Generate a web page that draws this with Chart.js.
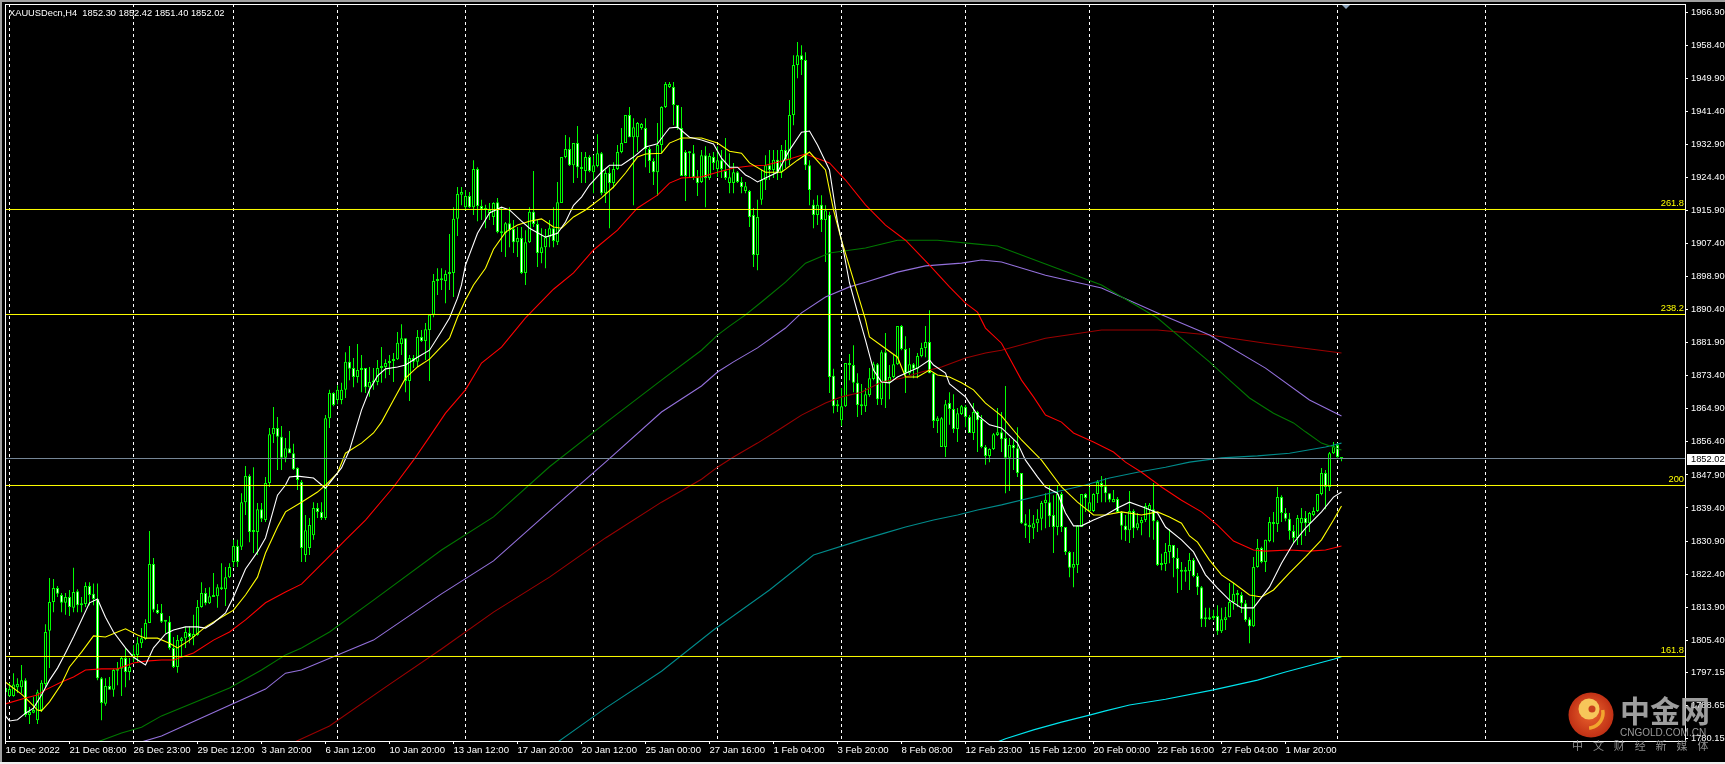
<!DOCTYPE html>
<html>
<head>
<meta charset="utf-8">
<title>XAUUSDecn,H4</title>
<script src="https://cdn.jsdelivr.net/npm/chart.js@4/dist/chart.umd.min.js"></script>
<style>
html, body { margin: 0; padding: 0; background: #000; overflow: hidden; }
canvas { display: block; }
</style>
</head>
<body>
<canvas id="chart" width="1725" height="764"></canvas>
<script>
// H4 candles, one value per bar
const open = [
1792.0,1791.0,1791.0,1793.3,1793.3,1795.1,1786.1,1786.7,1784.8,1787.4,
1794.1,1807.8,1815.2,1818.8,1817.0,1815.0,1816.5,1813.7,1818.0,1814.4,
1814.7,1819.3,1817.3,1816.0,1795.6,1789.0,1793.6,1792.6,1797.5,1798.0,
1800.8,1797.2,1801.1,1801.6,1804.6,1805.7,1809.8,1825.0,1813.2,1812.4,
1810.1,1810.1,1803.4,1798.5,1805.2,1805.9,1807.2,1806.2,1806.7,1813.9,
1817.5,1814.9,1816.5,1816.7,1818.5,1818.5,1821.6,1825.5,1829.6,1829.4,
1840.9,1847.6,1833.2,1833.2,1839.1,1836.3,1845.8,1858.4,1860.0,1857.7,
1852.3,1854.8,1853.5,1849.7,1846.1,1827.3,1829.1,1832.4,1839.4,1838.4,
1836.8,1862.5,1869.0,1867.2,1867.2,1869.8,1877.0,1875.4,1873.1,1875.4,
1875.4,1870.5,1871.7,1871.8,1875.4,1875.7,1876.7,1877.2,1877.7,1881.6,
1883.1,1872.1,1878.0,1877.0,1883.4,1882.4,1885.2,1889.1,1897.8,1898.0,
1897.8,1899.6,1899.9,1913.8,1920.0,1916.8,1919.7,1916.8,1926.6,1917.1,
1916.1,1915.3,1914.3,1918.1,1910.1,1910.1,1912.7,1911.2,1907.8,1908.9,
1899.9,1907.8,1915.6,1912.5,1905.0,1906.5,1909.1,1911.4,1907.8,1917.9,
1929.7,1931.8,1927.6,1933.3,1926.6,1926.1,1929.7,1925.8,1927.4,1930.7,
1920.4,1925.6,1923.0,1926.6,1931.0,1933.3,1940.5,1934.8,1934.8,1937.2,
1937.2,1931.8,1928.7,1925.8,1932.8,1942.6,1947.7,1947.7,1943.1,1937.2,
1931.0,1930.7,1930.7,1924.5,1923.3,1930.2,1924.3,1929.7,1926.6,1928.9,
1926.1,1923.0,1923.0,1925.8,1923.3,1921.0,1921.0,1914.8,1904.5,1918.7,
1923.8,1927.6,1926.4,1929.0,1925.8,1931.5,1928.9,1940.5,1953.4,1955.9,
1954.7,1927.6,1917.4,1914.8,1917.4,1913.5,1914.8,1873.4,1865.6,1862.0,
1865.6,1876.7,1876.2,1871.6,1865.6,1865.6,1868.5,1872.6,1876.4,1867.4,
1879.5,1871.8,1873.1,1876.4,1886.2,1880.3,1874.1,1876.4,1875.2,1878.5,
1880.6,1882.1,1874.1,1861.8,1855.1,1855.1,1866.4,1864.9,1859.7,1863.6,
1865.4,1862.8,1858.7,1864.1,1862.3,1855.1,1852.8,1854.6,1858.2,1858.9,
1857.4,1852.3,1855.6,1854.8,1848.4,1835.5,1834.5,1834.2,1835.5,1836.6,
1840.7,1840.9,1837.6,1834.5,1843.0,1834.5,1828.1,1824.0,1824.7,1834.5,
1843.0,1838.6,1838.6,1843.0,1845.8,1845.0,1843.2,1840.9,1841.7,1838.4,
1834.8,1833.7,1838.6,1834.2,1835.5,1836.3,1838.9,1839.1,1836.0,1824.7,
1825.0,1828.1,1829.9,1826.5,1823.0,1823.0,1823.2,1826.0,1821.9,1819.0,
1810.8,1810.8,1811.1,1811.6,1807.7,1810.6,1811.3,1815.2,1817.0,1817.0,
1814.9,1810.8,1809.0,1824.2,1829.1,1825.5,1830.9,1835.3,1835.3,1842.2,
1838.1,1836.6,1833.5,1831.7,1835.5,1836.8,1835.5,1837.6,1838.6,1843.0,
1848.4,1844.8,1853.5,1855.6,1852.30];
const high = [
1794.6,1794.4,1796.9,1795.6,1799.0,1795.6,1788.2,1790.8,1792.6,1795.1,
1809.5,1821.4,1821.1,1819.3,1817.5,1817.5,1818.3,1824.0,1818.5,1816.5,
1820.3,1820.3,1820.0,1820.0,1795.9,1795.6,1795.9,1798.0,1799.8,1801.1,
1803.4,1800.8,1804.1,1806.2,1808.5,1810.8,1833.5,1826.5,1814.7,1814.7,
1810.6,1811.6,1806.2,1806.7,1806.2,1808.8,1809.0,1811.9,1815.7,1820.3,
1818.8,1819.0,1822.7,1819.8,1825.2,1824.2,1825.2,1831.2,1831.2,1843.2,
1850.2,1848.1,1849.9,1840.7,1840.7,1847.4,1860.0,1865.4,1862.8,1860.5,
1857.4,1859.2,1855.9,1849.9,1846.6,1837.6,1836.8,1840.9,1840.7,1840.9,
1863.3,1869.8,1869.2,1871.0,1871.6,1879.5,1881.1,1878.0,1881.6,1878.8,
1875.4,1875.7,1875.4,1877.5,1880.8,1877.7,1878.8,1879.3,1884.7,1886.7,
1883.1,1878.8,1878.8,1885.2,1885.2,1887.0,1889.1,1899.6,1901.1,1901.1,
1900.6,1909.9,1916.8,1922.0,1922.0,1921.2,1920.7,1928.9,1927.1,1918.7,
1917.4,1917.9,1918.1,1919.2,1916.8,1913.0,1916.8,1913.5,1911.7,1911.7,
1910.9,1916.8,1926.1,1913.5,1911.4,1911.2,1913.5,1916.8,1923.3,1929.7,
1935.4,1934.8,1933.3,1937.7,1931.0,1931.0,1930.2,1930.2,1935.6,1931.0,
1926.4,1927.1,1928.4,1932.8,1937.2,1940.5,1942.6,1939.7,1938.7,1938.5,
1939.7,1932.3,1929.4,1938.5,1942.8,1949.0,1949.0,1949.0,1943.1,1942.6,
1931.5,1931.2,1932.8,1926.4,1931.5,1932.5,1930.7,1931.0,1932.5,1931.5,
1934.6,1930.7,1928.2,1926.1,1924.6,1923.3,1921.2,1916.6,1918.7,1926.4,
1930.2,1931.5,1931.5,1931.5,1932.8,1934.1,1944.4,1955.9,1959.3,1958.5,
1956.7,1928.9,1918.7,1919.9,1919.9,1917.3,1915.6,1875.2,1867.2,1870.3,
1876.7,1879.0,1881.3,1874.1,1871.3,1870.3,1875.4,1877.0,1876.7,1880.0,
1884.4,1876.2,1878.8,1886.2,1886.5,1883.6,1880.6,1876.7,1879.3,1881.9,
1886.2,1890.3,1874.4,1863.0,1862.8,1867.2,1869.2,1868.7,1865.1,1865.9,
1865.9,1863.3,1866.4,1864.4,1863.3,1855.6,1854.8,1858.7,1865.1,1864.1,
1870.8,1857.4,1856.9,1860.2,1848.4,1837.8,1839.1,1837.6,1839.1,1841.2,
1843.2,1845.1,1842.7,1845.1,1843.5,1834.5,1828.3,1828.1,1835.0,1843.0,
1843.2,1844.8,1843.2,1846.6,1847.6,1847.1,1843.2,1844.0,1842.2,1838.6,
1837.6,1843.8,1839.1,1838.1,1837.1,1840.7,1840.7,1845.8,1836.3,1827.6,
1830.4,1834.0,1829.9,1829.1,1825.5,1824.2,1827.8,1826.5,1822.7,1819.3,
1813.7,1813.7,1813.2,1814.4,1813.7,1813.9,1820.1,1820.1,1818.3,1817.8,
1815.7,1811.3,1826.8,1831.4,1829.4,1831.2,1837.1,1838.4,1844.8,1842.7,
1839.4,1838.1,1835.0,1837.6,1839.4,1838.6,1838.4,1839.6,1843.0,1849.7,
1849.2,1853.8,1856.4,1856.1,1852.42];
const low = [
1791.8,1790.8,1790.8,1791.8,1791.8,1785.6,1783.8,1786.6,1783.8,1786.9,
1793.3,1798.2,1812.6,1816.5,1812.6,1811.9,1811.6,1812.6,1812.6,1812.6,
1813.9,1814.4,1814.4,1795.1,1784.8,1788.5,1792.6,1790.8,1793.8,1791.0,
1793.3,1795.1,1799.8,1799.5,1803.4,1805.4,1809.8,1812.6,1812.1,1809.8,
1807.2,1802.9,1798.2,1797.0,1801.1,1803.4,1804.6,1804.1,1806.5,1813.7,
1814.4,1814.7,1816.5,1813.7,1818.3,1814.2,1821.4,1824.2,1824.2,1828.6,
1837.6,1830.6,1827.8,1827.3,1835.8,1835.8,1844.8,1856.1,1849.2,1849.2,
1851.2,1853.5,1849.2,1844.0,1825.5,1825.5,1827.3,1831.2,1836.8,1836.3,
1836.3,1860.0,1865.6,1866.1,1866.1,1867.7,1872.3,1870.5,1871.6,1869.2,
1869.0,1868.0,1869.8,1871.0,1871.6,1872.8,1873.6,1871.8,1877.5,1878.8,
1869.2,1866.9,1875.4,1875.7,1882.1,1877.5,1872.1,1888.5,1894.2,1895.5,
1892.1,1895.5,1893.7,1909.4,1917.3,1916.0,1916.6,1914.8,1913.2,1913.5,
1911.4,1913.5,1912.2,1910.1,1905.3,1904.0,1906.5,1905.0,1904.0,1899.6,
1896.8,1907.6,1911.7,1901.4,1902.4,1901.1,1906.5,1906.5,1907.1,1917.9,
1929.4,1927.4,1923.0,1924.3,1923.0,1923.0,1925.8,1920.4,1927.1,1919.9,
1917.9,1911.4,1921.7,1926.4,1930.7,1933.3,1934.8,1917.3,1931.0,1936.7,
1927.1,1925.6,1922.5,1919.7,1930.7,1942.3,1947.5,1937.9,1936.7,1924.8,
1918.4,1924.5,1923.8,1919.7,1923.0,1916.8,1923.8,1926.4,1924.6,1924.3,
1923.8,1920.4,1920.4,1923.0,1920.4,1920.4,1911.7,1901.4,1900.6,1917.4,
1921.2,1923.8,1924.3,1923.8,1924.3,1926.9,1927.6,1937.9,1950.0,1950.8,
1926.4,1917.3,1911.4,1912.2,1910.4,1902.7,1869.0,1863.8,1864.1,1860.5,
1865.4,1872.3,1869.2,1862.8,1863.3,1864.1,1868.0,1872.3,1865.9,1865.9,
1865.1,1867.4,1872.8,1876.2,1880.0,1869.0,1873.6,1872.8,1872.8,1878.2,
1878.2,1874.1,1860.0,1858.7,1855.1,1852.5,1860.8,1858.7,1856.4,1863.3,
1860.2,1858.7,1856.9,1853.8,1854.8,1850.5,1851.2,1854.3,1857.9,1853.8,
1843.2,1843.8,1849.2,1847.4,1835.3,1831.7,1830.4,1831.4,1833.2,1833.7,
1834.2,1834.5,1827.8,1832.4,1833.2,1827.3,1821.6,1819.0,1822.7,1834.5,
1838.4,1838.4,1838.4,1840.7,1840.9,1840.9,1840.9,1840.9,1838.1,1831.2,
1830.9,1830.4,1831.7,1833.7,1832.4,1835.8,1831.9,1831.2,1824.5,1823.4,
1823.2,1825.2,1821.6,1817.5,1818.3,1820.4,1818.3,1821.6,1817.0,1808.8,
1808.8,1810.6,1810.6,1806.7,1807.2,1808.0,1811.3,1813.2,1813.9,1812.4,
1810.1,1804.6,1808.8,1824.0,1825.2,1822.9,1830.6,1830.6,1833.2,1835.8,
1836.0,1831.2,1830.4,1829.9,1829.9,1832.2,1833.2,1837.3,1838.4,1842.7,
1839.1,1843.8,1853.3,1852.3,1851.40];
const close = [
1793.1,1792.8,1794.0,1794.1,1795.1,1786.1,1786.9,1787.4,1792.0,1794.4,
1807.5,1815.2,1818.8,1817.3,1815.0,1816.5,1813.9,1817.8,1814.4,1814.9,
1819.3,1817.0,1816.0,1795.6,1789.2,1793.6,1792.6,1797.7,1798.0,1800.8,
1797.2,1798.5,1801.8,1804.6,1805.9,1809.8,1825.0,1813.2,1812.4,1810.1,
1810.3,1803.4,1798.5,1805.4,1805.9,1807.5,1806.2,1807.0,1813.9,1817.5,
1814.9,1816.7,1816.7,1819.0,1819.0,1821.6,1824.2,1829.6,1825.5,1840.9,
1847.6,1833.2,1833.4,1839.1,1836.6,1845.8,1858.4,1860.0,1857.7,1852.3,
1854.8,1853.5,1849.4,1846.6,1829.1,1833.7,1835.0,1839.4,1838.4,1836.8,
1862.5,1869.0,1865.9,1869.8,1869.8,1877.0,1875.2,1873.1,1874.9,1874.9,
1870.5,1871.8,1871.8,1875.4,1875.9,1876.7,1877.2,1877.7,1881.9,1883.1,
1872.1,1878.0,1877.0,1883.4,1882.4,1885.4,1889.1,1897.8,1898.1,1898.1,
1899.6,1899.9,1913.8,1920.2,1920.7,1919.7,1916.8,1926.6,1917.1,1916.3,
1916.6,1916.1,1917.9,1910.4,1910.4,1912.7,1910.9,1907.8,1908.9,1899.9,
1907.8,1915.6,1912.5,1905.0,1906.5,1909.1,1911.4,1908.1,1918.1,1929.7,
1931.8,1927.6,1933.3,1927.1,1927.1,1929.7,1926.1,1927.6,1930.7,1920.4,
1925.6,1923.0,1926.6,1931.0,1933.3,1940.5,1934.8,1937.4,1938.5,1938.2,
1931.8,1928.7,1925.8,1932.8,1942.6,1948.5,1948.5,1943.1,1937.2,1924.8,
1924.8,1931.0,1924.5,1923.0,1930.2,1924.3,1930.0,1928.2,1928.9,1926.6,
1924.3,1924.5,1925.8,1923.3,1922.0,1922.2,1914.3,1904.5,1914.3,1923.8,
1927.6,1926.4,1929.0,1925.8,1931.5,1928.9,1940.5,1953.4,1955.9,1954.7,
1927.6,1921.2,1914.8,1917.4,1913.5,1916.0,1873.1,1865.6,1865.9,1865.6,
1876.7,1876.2,1871.6,1865.9,1866.1,1868.7,1872.8,1876.4,1867.4,1879.5,
1871.8,1873.1,1876.4,1886.2,1880.3,1874.1,1876.4,1875.2,1878.5,1880.6,
1882.1,1874.1,1861.8,1862.5,1862.5,1866.1,1864.9,1859.7,1863.8,1865.6,
1862.8,1858.7,1864.1,1862.0,1855.1,1852.8,1854.6,1858.4,1858.9,1857.1,
1852.3,1855.6,1854.8,1848.4,1835.5,1834.8,1834.8,1835.5,1836.6,1840.7,
1841.5,1837.3,1834.5,1843.0,1834.5,1828.1,1824.0,1825.0,1834.8,1843.0,
1842.0,1840.9,1843.0,1846.1,1844.8,1843.2,1841.5,1841.7,1838.4,1834.8,
1833.7,1838.6,1834.2,1835.5,1836.3,1839.9,1840.2,1836.0,1824.7,1825.2,
1828.1,1829.9,1826.5,1823.7,1823.4,1823.4,1826.0,1821.9,1819.0,1810.8,
1811.1,1811.1,1811.6,1807.7,1810.8,1811.3,1815.2,1817.3,1817.5,1814.9,
1810.6,1809.0,1824.2,1829.1,1825.5,1831.2,1835.8,1835.8,1842.2,1838.1,
1836.6,1833.5,1831.7,1836.8,1836.8,1835.5,1838.1,1838.6,1843.0,1848.4,
1844.8,1853.5,1855.3,1852.5,1852.02];

// moving averages: bar number and value at the places
const whiteBars = [0,1,3,5,7,9,11,13,15,17,19,21,23,25,27,30,32,35,37,40,42,45,48,50,52,55,57,60,63,65,68,70,71,73,77,80,84,86,89,91,93,95,98,100,103,106,109,111,113,114,115,118,121,124,126,129,131,135,138,140,142,144,146,149,151,154,157,160,163,165,166,168,171,174,177,179,181,183,185,186,188,190,193,196,199,201,203,206,208,209,211,213,215,217,219,221,223,225,228,231,232,235,236,240,243,246,249,253,255,258,260,263,265,267,269,272,275,278,281,285,288,290,294,297,300,303,306,309,312,316,319,322,325,329,332,334];
const whiteVals = [1785.9,1784.6,1784.9,1786.6,1787.9,1791.3,1795.1,1798.2,1802.1,1806.2,1810.6,1815,1816,1811.3,1807.5,1803.4,1801,1799,1803.4,1807,1808,1808.8,1808.8,1808.5,1809.8,1812.4,1816.5,1823.7,1828.1,1831.7,1842.7,1845.3,1847.4,1847.6,1847.1,1844.5,1849.7,1854.3,1864.6,1869.8,1873.4,1875.2,1875.7,1876.2,1878.2,1880,1884.9,1888.3,1893.4,1896.8,1901.9,1910.1,1915.3,1916.8,1916.1,1913.2,1911.4,1909.1,1910.1,1913,1917.3,1919.4,1922.5,1925.8,1927.6,1927.6,1929.7,1932.3,1933.1,1935.9,1937.2,1937.4,1934.8,1934.1,1933.1,1929.4,1927.1,1927.1,1925.1,1924.6,1923.3,1924.3,1925.8,1931.5,1936.1,1936.4,1932.8,1926.4,1913,1908.3,1897.3,1889.8,1882.6,1874.9,1871.8,1871.6,1873.1,1874.1,1875.4,1877.5,1876.2,1874.1,1871.3,1868,1863.3,1860.8,1860,1856.1,1851.7,1847.4,1844.8,1843.2,1838.1,1834.8,1834.8,1836.3,1837.6,1839.4,1840.9,1839.4,1838.1,1834.5,1831.2,1828.1,1822.2,1818.8,1815.7,1813.7,1813.7,1819.1,1825.2,1830.4,1834.2,1838.4,1842.2,1843.5];

const yellowBars = [0,1,4,6,8,9,11,14,16,19,22,25,28,30,33,35,38,41,43,46,50,54,57,60,63,65,68,70,74,78,80,83,85,89,92,94,97,100,103,106,111,113,115,117,120,122,125,128,131,134,137,139,142,145,149,152,155,158,160,164,166,169,174,178,181,184,186,190,194,198,201,205,207,209,212,215,216,223,225,228,231,233,236,239,242,245,249,254,259,264,268,272,275,279,284,288,291,294,296,298,301,304,307,311,314,317,321,325,329,332,334];
const yellowVals = [1794.6,1793.8,1791.5,1789.5,1787.4,1787.2,1789.5,1794.1,1798.5,1802.3,1806.5,1806.2,1807.5,1808.3,1806.7,1805.9,1805.9,1804.6,1803.4,1805.4,1808.8,1811.3,1813.1,1817,1821.6,1827.8,1834.5,1838.4,1840.9,1843.5,1845.3,1848.4,1853.5,1856.1,1858.7,1861.5,1867.2,1872.8,1875.7,1877.7,1883.1,1888.5,1892.9,1896.8,1901.1,1906,1910.4,1912.2,1913.2,1913.8,1911.7,1911.4,1914.3,1916.1,1919.2,1922,1925.6,1929.7,1930.5,1930.7,1933.3,1934.6,1934.6,1933.3,1931.2,1930.7,1928.2,1925.8,1925.8,1928.9,1931,1926.4,1916.1,1908.3,1898.1,1887.8,1883.4,1878.2,1873.1,1873.1,1874.9,1873.6,1873.1,1871.6,1869.8,1866.4,1863.1,1856.9,1851.7,1844.8,1840.9,1837.6,1837.6,1838.4,1837.6,1838.4,1837.1,1835.5,1832.2,1830.6,1826,1822.2,1820.1,1817,1816.5,1818.3,1822.7,1826.8,1831.2,1836.3,1839.9];

const redBars = [0,5,8,10,14,17,20,24,28,32,35,39,42,47,52,56,60,65,70,74,80,85,90,97,102,106,110,115,119,124,130,137,142,147,153,158,163,166,169,174,178,182,186,190,195,200,206,210,215,220,225,231,236,240,243,245,249,254,257,260,264,267,272,277,280,284,289,294,299,303,307,312,315,321,326,330,334];
const redVals = [1789,1790.5,1791.3,1792.6,1794.6,1795.9,1797.7,1798,1798,1799.5,1800,1800.3,1800.3,1802.1,1805.4,1807.5,1810.6,1815,1817.8,1819.8,1826,1831.2,1836.3,1844.8,1851.7,1857.7,1863.8,1869.8,1876.7,1880.8,1888.3,1895.7,1899.9,1905.8,1910.9,1916.6,1919.9,1923,1924.3,1924.6,1925.8,1926.9,1927.4,1927.6,1928.9,1930.5,1928.2,1923.8,1917.4,1912.2,1908.3,1901.9,1896.3,1892.1,1889.8,1885.7,1881.8,1872.3,1868,1863.3,1861.5,1858.7,1856.4,1853.8,1851.2,1848.6,1844.8,1841.4,1838.4,1835,1830.9,1828.6,1828.3,1828.6,1828.3,1828.6,1829.6];

const greenBars = [23,29,34,39,56,64,70,74,81,92,109,122,136,150,164,174,178,181,185,189,195,200,206,215,223,233,243,248,260,274,288,296,301,306,311,317,322,325,329,334];
const greenVals = [1779.2,1781.5,1783,1785.9,1793.1,1797.7,1801.6,1803.4,1807.5,1815.7,1828.6,1837.1,1850,1861.3,1872.3,1880,1883.9,1886.2,1889.1,1892.4,1897.5,1902.4,1905,1906.3,1908.3,1908.3,1907.3,1906.8,1902.2,1896.8,1888.3,1881.3,1877,1872.3,1867.7,1863.8,1861.3,1859,1856.1,1854.3];

const purpleBars = [34,39,65,70,74,92,109,122,136,150,164,174,178,182,188,195,199,205,211,215,223,230,239,244,249,260,274,288,301,315,326,334];
const purpleVals = [1779.2,1780.7,1792.8,1796.9,1797.7,1805.4,1817.3,1825.8,1838.6,1851.2,1864.1,1870.8,1874.4,1877,1880.6,1885.7,1889.6,1893.7,1896.3,1897.5,1900.1,1901.7,1902.4,1903.2,1902.7,1899.3,1896,1889.6,1883.9,1875.4,1867.2,1863.1];

const maroonBars = [70,81,95,109,122,136,150,164,174,178,182,188,194,199,205,209,214,219,224,229,234,240,245,249,260,274,288,301,315,334];
const maroonVals = [1778.1,1783.3,1793.3,1803.1,1812.6,1821.6,1831.7,1840.9,1846.8,1849.9,1852.5,1856.1,1860,1863.3,1866.4,1868,1869.2,1871.8,1872.8,1874.4,1875.7,1878,1879.3,1880,1883.1,1885.2,1885.2,1883.9,1881.8,1879.3];

const tealBars = [137,150,164,177,191,202,214,220,225,232,238,243,249,259,270,276,283,290,296,304,313,321,330,334];
const tealVals = [1778.4,1787.9,1797.4,1808,1818.3,1827.3,1831.2,1833,1834.5,1836.3,1837.6,1838.9,1840.2,1842.7,1845.3,1847.1,1848.6,1849.9,1851.2,1852.3,1852.8,1853.5,1855.1,1856.1];

const cyanBars = [248,250,257,264,271,275,281,290,302,313,320,332,334];
const cyanVals = [1779.2,1780,1782.3,1784.3,1786.1,1787.2,1788.7,1790.2,1792.6,1795.1,1797.2,1800.5,1801.1];

// horizontal levels and axes
const fibLabels = ['261.8', '238.2', '200', '161.8'];
const fibValues = [1916.21, 1889.19, 1845.19, 1801.19];
const lastPrice = 1852.02;
const lastLine = 1852.13;
const priceTicks = [1966.90,1958.40,1949.90,1941.40,1932.90,1924.40,1915.90,1907.40,1898.90,1890.40,1881.90,1873.40,1864.90,1856.40,1847.90,1839.40,1830.90,1822.40,1813.90,1805.40,1797.15,1788.65,1780.15];
const timeLabels = ['16 Dec 2022','21 Dec 08:00','26 Dec 23:00','29 Dec 12:00','3 Jan 20:00','6 Jan 12:00','10 Jan 20:00','13 Jan 12:00','17 Jan 20:00','20 Jan 12:00','25 Jan 00:00','27 Jan 16:00','1 Feb 04:00','3 Feb 20:00','8 Feb 08:00','12 Feb 23:00','15 Feb 12:00','20 Feb 00:00','22 Feb 16:00','27 Feb 04:00','1 Mar 20:00'];
const timeTickBars = timeLabels.map((_, i) => i * 16);
const separatorBars = [1, 32, 57, 83, 115, 147, 178, 209, 240, 271, 302, 333, 370];

const FONT_FAMILY = '"Liberation Sans", Arial, sans-serif';
const GREEN = '#00ff00';
const xMin = -0.125;
const xMax = 419.875;

const zip = (xs, ys) => xs.map((x, i) => ({ x: x, y: ys[i] }));
const maLine = (label, xs, ys, color, order) => ({
    type: 'line',
    label: label,
    data: zip(xs, ys),
    borderColor: color,
    borderWidth: 1.1,
    pointRadius: 0,
    tension: 0,
    fill: false,
    order: order,
});
const levelLine = (label, value, color, order) => ({
    type: 'line',
    label: label,
    data: [{ x: xMin, y: value }, { x: xMax, y: value }],
    borderColor: color,
    borderWidth: 1,
    pointRadius: 0,
    fill: false,
    order: order,
});

const barIndex = open.map((_, i) => i);

const datasets = [
    {
        type: 'bar',
        label: 'wick',
        data: barIndex.map(i => ({ x: i, y: [low[i], high[i]] })),
        backgroundColor: GREEN,
        borderWidth: 0,
        barThickness: 1,
        grouped: false,
        inflateAmount: 0,
        order: 20,
    },
    {
        type: 'bar',
        label: 'body',
        data: barIndex.map(i => ({ x: i, y: [open[i], close[i]] })),
        backgroundColor: barIndex.map(i => (open[i] > close[i] ? '#ffffff' : '#000000')),
        borderColor: GREEN,
        borderWidth: 1,
        borderSkipped: false,
        barThickness: 3,
        minBarLength: 2,
        grouped: false,
        inflateAmount: 0,
        order: 19,
    },
    maLine('cyan', cyanBars, cyanVals, '#00e5ee', 9),
    maLine('teal', tealBars, tealVals, '#008b8b', 8),
    maLine('maroon', maroonBars, maroonVals, '#9a0000', 7),
    maLine('purple', purpleBars, purpleVals, '#9370db', 6),
    maLine('green', greenBars, greenVals, '#007800', 5),
    maLine('red', redBars, redVals, '#ff0000', 4),
    maLine('yellow', yellowBars, yellowVals, '#ffff00', 3),
    maLine('white', whiteBars, whiteVals, '#ffffff', 2),
    levelLine('last', lastLine, '#778899', 1),
];
fibValues.forEach((v, i) => datasets.push(levelLine(fibLabels[i], v, '#ffff00', 0)));

// frame, window edges, texts on the chart and the watermark
const decorations = {
    id: 'decorations',
    afterDraw(chart) {
        const ctx = chart.ctx;
        const area = chart.chartArea;
        const y = chart.scales.y;

        ctx.save();
        ctx.fillStyle = '#a0a0a0';
        ctx.fillRect(0, 0, 1725, 2);
        ctx.fillRect(0, 0, 2, 764);
        ctx.fillStyle = '#f0f0f0';
        ctx.fillRect(0, 762, 1725, 2);

        ctx.strokeStyle = '#ffffff';
        ctx.lineWidth = 1;
        ctx.strokeRect(area.left + 0.5, area.top + 0.5, area.right - area.left, area.bottom - area.top);

        ctx.font = '9.3px ' + FONT_FAMILY;
        ctx.textBaseline = 'middle';
        ctx.textAlign = 'left';
        ctx.fillStyle = '#ffffff';
        ctx.fillText('XAUUSDecn,H4  1852.30 1852.42 1851.40 1852.02', 9, 13);

        ctx.textAlign = 'right';
        ctx.fillStyle = '#ffff00';
        fibValues.forEach((v, i) => {
            ctx.fillText(fibLabels[i], area.right - 1, y.getPixelForValue(v) - 6);
        });

        // current price box on the axis
        const py = Math.round(y.getPixelForValue(lastPrice));
        ctx.fillStyle = '#ffffff';
        ctx.fillRect(area.right + 2, py - 5, 38, 11);
        ctx.fillStyle = '#000000';
        ctx.textAlign = 'left';
        ctx.fillText(lastPrice.toFixed(2), area.right + 6, py + 0.5);

        // chart shift marker
        ctx.fillStyle = '#8ca4bc';
        ctx.beginPath();
        ctx.moveTo(1342, 5);
        ctx.lineTo(1350, 5);
        ctx.lineTo(1346, 9);
        ctx.closePath();
        ctx.fill();

        // watermark
        const grad = ctx.createRadialGradient(1590, 712, 3, 1591, 715, 23);
        grad.addColorStop(0, '#e8602c');
        grad.addColorStop(1, '#bf2f14');
        ctx.fillStyle = grad;
        ctx.beginPath();
        ctx.arc(1591, 715, 22.5, 0, Math.PI * 2);
        ctx.fill();
        ctx.fillStyle = '#f7c65a';
        ctx.beginPath();
        ctx.arc(1589, 709, 10.5, 0, Math.PI * 2);
        ctx.fill();
        ctx.fillStyle = '#c9401c';
        ctx.beginPath();
        ctx.arc(1592, 709, 3.5, 0, Math.PI * 2);
        ctx.fill();
        ctx.strokeStyle = '#f2a52e';
        ctx.lineWidth = 3.5;
        ctx.beginPath();
        ctx.arc(1588, 713, 15, -0.2, 1.5);
        ctx.stroke();

        ctx.textAlign = 'left';
        ctx.fillStyle = 'rgba(175,175,175,0.9)';
        ctx.font = 'bold 30px "Noto Sans CJK SC", sans-serif';
        ctx.fillText('中金网', 1620, 711);
        ctx.fillStyle = 'rgba(170,170,170,0.9)';
        ctx.font = '10px "Liberation Sans", Arial, sans-serif';
        ctx.fillText('CNGOLD.COM.CN', 1620, 733);
        ctx.fillStyle = 'rgba(150,150,150,0.95)';
        ctx.font = '11px "Noto Sans CJK SC", sans-serif';
        Array.from('中文财经新媒体').forEach((ch, i) => {
            ctx.fillText(ch, 1572 + i * 20.9, 746);
        });
        ctx.restore();
    }
};

const noAxisPadding = (axis) => {
    axis.paddingTop = 0;
    axis.paddingBottom = 0;
    axis.paddingLeft = 0;
    axis.paddingRight = 0;
};

const config = {
    type: 'bar',
    data: { datasets: datasets },
    options: {
        responsive: false,
        animation: false,
        devicePixelRatio: 1,
        layout: { autoPadding: false, padding: { left: 5, top: 4, right: 0, bottom: 0 } },
        events: [],
        plugins: {
            legend: { display: false },
            title: { display: false },
            tooltip: { enabled: false },
        },
        scales: {
            x: {
                type: 'linear',
                position: 'bottom',
                min: xMin,
                max: xMax,
                offset: false,
                afterBuildTicks: (axis) => { axis.ticks = timeTickBars.map(v => ({ value: v })); },
                afterFit: (axis) => { axis.height = 23; noAxisPadding(axis); },
                grid: { display: true, drawOnChartArea: false, offset: false, color: '#ffffff', tickLength: 3 },
                border: { display: false },
                ticks: {
                    color: '#ffffff',
                    font: { family: FONT_FAMILY, size: 9.6 },
                    autoSkip: false,
                    maxRotation: 0,
                    minRotation: 0,
                    align: 'start',
                    padding: 1,
                    callback: (value) => timeLabels[value / 16],
                },
            },
            separators: {
                type: 'linear',
                position: 'bottom',
                min: xMin,
                max: xMax,
                offset: false,
                afterBuildTicks: (axis) => { axis.ticks = separatorBars.map(v => ({ value: v })); },
                afterFit: (axis) => { axis.height = 0; noAxisPadding(axis); },
                grid: { display: true, drawTicks: false, offset: false, color: '#ffffff', lineWidth: 1 },
                border: { display: false, dash: [3, 3] },
                ticks: { display: false, autoSkip: false },
            },
            y: {
                type: 'linear',
                position: 'right',
                min: 1779.44,
                max: 1969.09,
                afterBuildTicks: (axis) => { axis.ticks = priceTicks.map(v => ({ value: v })); },
                afterFit: (axis) => { axis.width = 40; noAxisPadding(axis); },
                grid: { display: true, drawOnChartArea: false, color: '#ffffff', tickLength: 3 },
                border: { display: false },
                ticks: {
                    color: '#ffffff',
                    font: { family: FONT_FAMILY, size: 9.3 },
                    autoSkip: false,
                    padding: 3,
                    callback: (value) => value.toFixed(2),
                },
            },
        },
    },
    plugins: [decorations],
};

new Chart(document.getElementById('chart'), config);
</script>
</body>
</html>
